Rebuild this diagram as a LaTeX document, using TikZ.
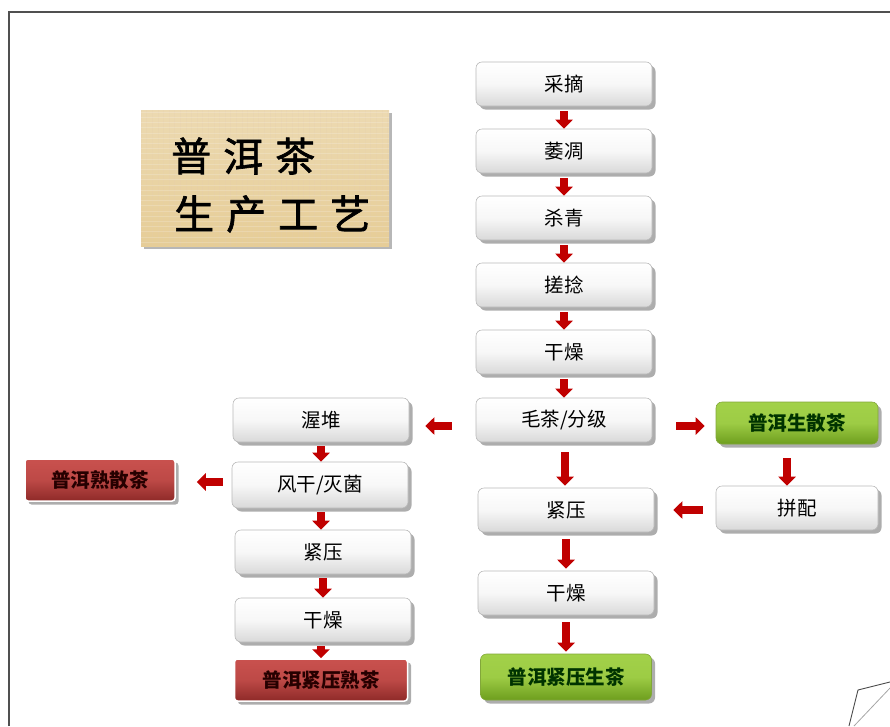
\documentclass[tikz,border=0pt]{standalone}
\usepackage{fontspec}
\newfontfamily\cjk{Noto Sans CJK SC}
\newfontfamily\cjktitle[FakeBold=1.6]{Noto Sans CJK SC}
\usetikzlibrary{shadows,arrows.meta}
\definecolor{arrred}{HTML}{C00000}
\definecolor{frame}{HTML}{505050}
\definecolor{gtop}{HTML}{A2D149}
\definecolor{gbot}{HTML}{6E9E1E}
\definecolor{rtop}{HTML}{C9514E}
\definecolor{rbot}{HTML}{8E2A28}
\definecolor{papyrus}{HTML}{E6CD97}
\tikzset{
  procbox/.style={rounded corners=6pt, draw=gray!55, line width=0.6pt,
    top color=white, bottom color=gray!30, middle color=gray!6,
    minimum width=176pt, minimum height=44pt, inner sep=0pt,
    font=\cjk\fontsize{19.5}{22}\selectfont, text=black,
    drop shadow={shadow xshift=3.5pt, shadow yshift=-3.5pt, fill=gray!75, opacity=0.85}},
  greenbox/.style={procbox, draw=gtop!80!black, top color=gtop, bottom color=gbot, middle color=gtop!90!gbot,
    font=\cjk\bfseries\fontsize{19.5}{22}\selectfont, text=black!80!green},
  redbox/.style={procbox, draw=white, line width=1.5pt, rounded corners=3pt, top color=rtop, bottom color=rbot, middle color=rtop!80!rbot,
    font=\cjk\bfseries\fontsize{19.5}{22}\selectfont, text=black!85!red},
  arr/.style={draw=arrred, line width=7.5pt, -{Triangle[length=9pt,width=17pt]}},
  titlechar/.style={font=\cjktitle\fontsize{40}{44}\selectfont, inner sep=0pt, anchor=west, text=black}
}
\begin{document}
\begin{tikzpicture}[x=1pt,y=-1pt]
\useasboundingbox (0,0) rectangle (890,726);
% frame
\draw[frame, line width=1.3pt] (9,726) -- (9,12) -- (890,12);
\draw[frame, line width=0.9pt] (849,726) -- (858,690) -- (890,682);
\draw[gray!70, line width=0.8pt] (854,726) -- (890,688);
% title board
\node[draw=none, top color=papyrus!75!white, bottom color=papyrus, minimum width=248pt, minimum height=136pt, inner sep=0pt,
  drop shadow={shadow xshift=3pt, shadow yshift=-3pt, fill=gray!80, opacity=0.7}] (title) at (265,178) {};
\begin{scope}
\clip (title.south west) rectangle (title.north east);
\foreach \i in {0,...,44} {\draw[brown!40, opacity=0.18, line width=0.5pt] (141+\i*5.6,110) -- (141+\i*5.6,246);}
\foreach \j in {0,...,26} {\draw[white, opacity=0.18, line width=0.5pt] (140,112+\j*5.2) -- (390,112+\j*5.2);}
\end{scope}
\node[titlechar] (t1) at (171,156) {普\hspace{12pt}洱\hspace{12pt}茶};
\node[titlechar] (t2) at (174,214) {生\hspace{12pt}产\hspace{12pt}工\hspace{12pt}艺};
% centre column
\node[procbox] (c1) at (564,84) {采摘};
\node[procbox] (c2) at (564,151) {萎凋};
\node[procbox] (c3) at (564,218) {杀青};
\node[procbox] (c4) at (564,285) {搓捻};
\node[procbox] (c5) at (564,352) {干燥};
\node[procbox] (c6) at (564,420) {毛茶/分级};
\node[procbox] (c7) at (566,510) {紧压};
\node[procbox] (c8) at (566,593) {干燥};
\node[greenbox, minimum width=171pt, minimum height=46pt] (c9) at (566,677) {普洱紧压生茶};
% left column
\node[procbox] (l1) at (321,420) {渥堆};
\node[procbox, minimum height=46pt] (l2) at (320,485) {风干/灭菌};
\node[procbox] (l3) at (323,552) {紧压};
\node[procbox] (l4) at (323,620) {干燥};
\node[redbox, minimum width=173pt, minimum height=42pt] (l5) at (321,680) {普洱紧压熟茶};
\node[redbox, minimum width=150pt, minimum height=42pt] (l6) at (100,480) {普洱熟散茶};
% right column
\node[greenbox, minimum width=162pt, minimum height=42pt] (r1) at (797,423) {普洱生散茶};
\node[procbox, minimum width=162pt] (r2) at (797,508) {拼配};
% arrows centre
\foreach \a/\b in {c1/c2,c2/c3,c3/c4,c4/c5,c5/c6} {
  \draw[arr, shorten <=5pt] (\a.south) -- (\b.north);
}
\draw[arr, shorten <=10pt, shorten >=2pt] ([xshift=1pt]c6.south) -- ([xshift=1pt]c6.south |- c7.north);
\draw[arr, shorten <=7pt, shorten >=2pt] (c7.south) -- (c8.north);
\draw[arr, shorten <=7pt, shorten >=2pt] (c8.south) -- (c9.north);
% arrows left
\draw[arr, shorten <=4pt] (l1.south) -- (l1.south |- l2.north);
\draw[arr, shorten <=4pt] ([xshift=1pt]l2.south) -- ([xshift=1pt]l2.south |- l3.north);
\draw[arr, shorten <=4pt] (l3.south) -- (l4.north);
\draw[arr, shorten <=4pt] ([xshift=-2pt]l4.south) -- ([xshift=-2pt]l4.south |- l5.north);
\draw[arr, shorten <=24pt, shorten >=16pt] ([yshift=-6pt]c6.west) -- ([yshift=-6pt]l1.east);
\draw[arr, shorten <=9pt, shorten >=21pt] ([yshift=3pt]l2.west) -- ([yshift=3pt]l2.west -| l6.east);
% arrows right
\draw[arr, shorten <=24pt, shorten >=11pt] ([yshift=-6pt]c6.east) -- ([yshift=-6pt]c6.east -| r1.west);
\draw[arr, shorten <=14pt, shorten >=0pt] ([xshift=-10pt]r1.south) -- ([xshift=-10pt]r2.north);
\draw[arr, shorten <=13pt, shorten >=19pt] ([yshift=-2pt]r2.west) -- ([yshift=-2pt]r2.west -| c7.east);
\end{tikzpicture}
\end{document}
